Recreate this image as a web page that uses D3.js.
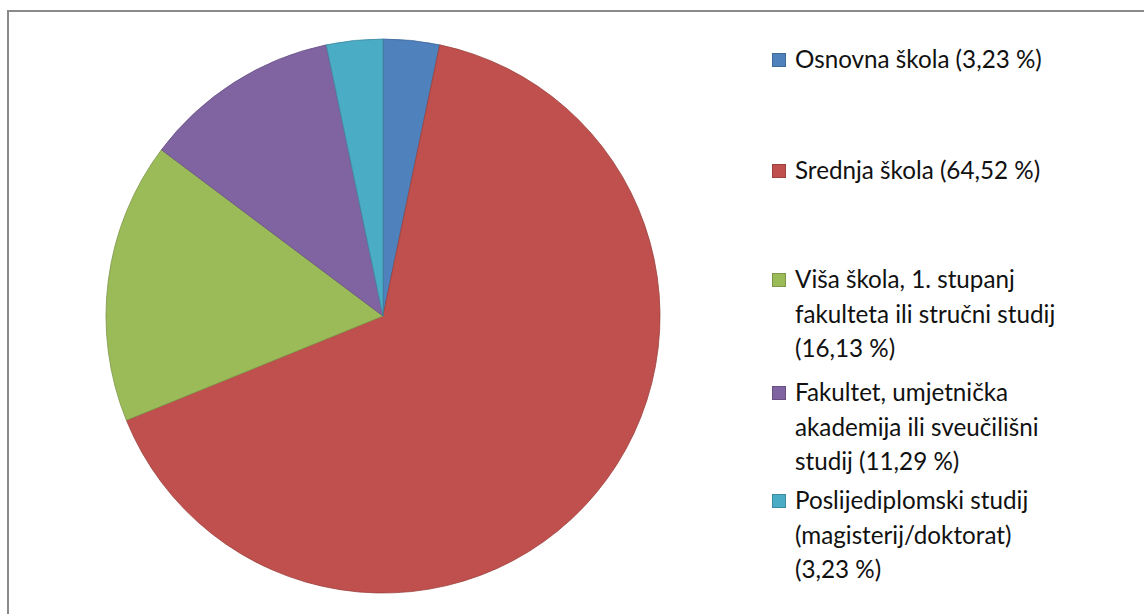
<!DOCTYPE html>
<html>
<head>
<meta charset="utf-8">
<script src="https://cdn.jsdelivr.net/npm/d3@7"></script>
<style>
  html, body { margin: 0; padding: 0; background: #fff; }
  svg { display: block; }
</style>
</head>
<body>
<svg id="chart" width="1144" height="614"></svg>
<script>
// ---- data ----
const categories = [
  "Osnovna škola",
  "Srednja škola",
  "Viša škola, 1. stupanj fakulteta ili stručni studij",
  "Fakultet, umjetnička akademija ili sveučilišni studij",
  "Poslijediplomski studij (magisterij/doktorat)"
];
const values = [3.23, 64.52, 16.13, 11.29, 3.23];
const legendLines = [
  ["Osnovna škola (3,23 %)"],
  ["Srednja škola (64,52 %)"],
  ["Viša škola, 1. stupanj", "fakulteta ili stručni studij", "(16,13 %)"],
  ["Fakultet, umjetnička", "akademija ili sveučilišni", "studij (11,29 %)"],
  ["Poslijediplomski studij", "(magisterij/doktorat)", "(3,23 %)"]
];
const colors = ["#4F81BD", "#C0504D", "#9BBB59", "#8064A2", "#4BACC6"];

// ---- layout ----
const cx = 383, cy = 316, R = 277;
const svg = d3.select("#chart");

// frame
svg.append("rect")
  .attr("x", 8).attr("y", 11)
  .attr("width", 1200).attr("height", 700)
  .attr("fill", "#fff")
  .attr("stroke", "#8a8a8a").attr("stroke-width", 2);

const pie = d3.pie().sort(null).value(d => d)(values);
const arc = d3.arc().innerRadius(0).outerRadius(R);
const color = d3.scaleOrdinal().domain(d3.range(values.length)).range(colors);

svg.append("g")
  .attr("transform", `translate(${cx},${cy})`)
  .selectAll("path")
  .data(pie)
  .join("path")
  .attr("d", arc)
  .attr("fill", (d, i) => color(i))
  .attr("stroke", (d, i) => d3.color(color(i)).darker(0.6))
  .attr("stroke-width", 0.8)
  .attr("stroke-linejoin", "round");

// legend
const firstBaselines = [68, 179, 288, 401, 509];
const lineH = 34.5;
const legend = svg.append("g").attr("font-family", "Lato, 'Open Sans', sans-serif").attr("fill", "#111");

let fs = 24;
const probe = legend.append("text").attr("font-size", fs).text(legendLines[0][0]);
const wProbe = probe.node().getComputedTextLength();
probe.remove();
if (wProbe > 0) fs = fs * 247 / wProbe;

legendLines.forEach((lines, i) => {
  const b = firstBaselines[i];
  legend.append("rect")
    .attr("x", 772.5).attr("y", b - 14.5)
    .attr("width", 13).attr("height", 13)
    .attr("fill", color(i))
    .attr("stroke", d3.color(color(i)).darker(0.6))
    .attr("stroke-width", 1);
  const t = legend.append("text")
    .attr("x", 795).attr("y", b)
    .attr("font-size", fs);
  lines.forEach((ln, j) => {
    t.append("tspan").attr("x", 795).attr("y", b + j * lineH).text(ln);
  });
});
</script>
</body>
</html>
